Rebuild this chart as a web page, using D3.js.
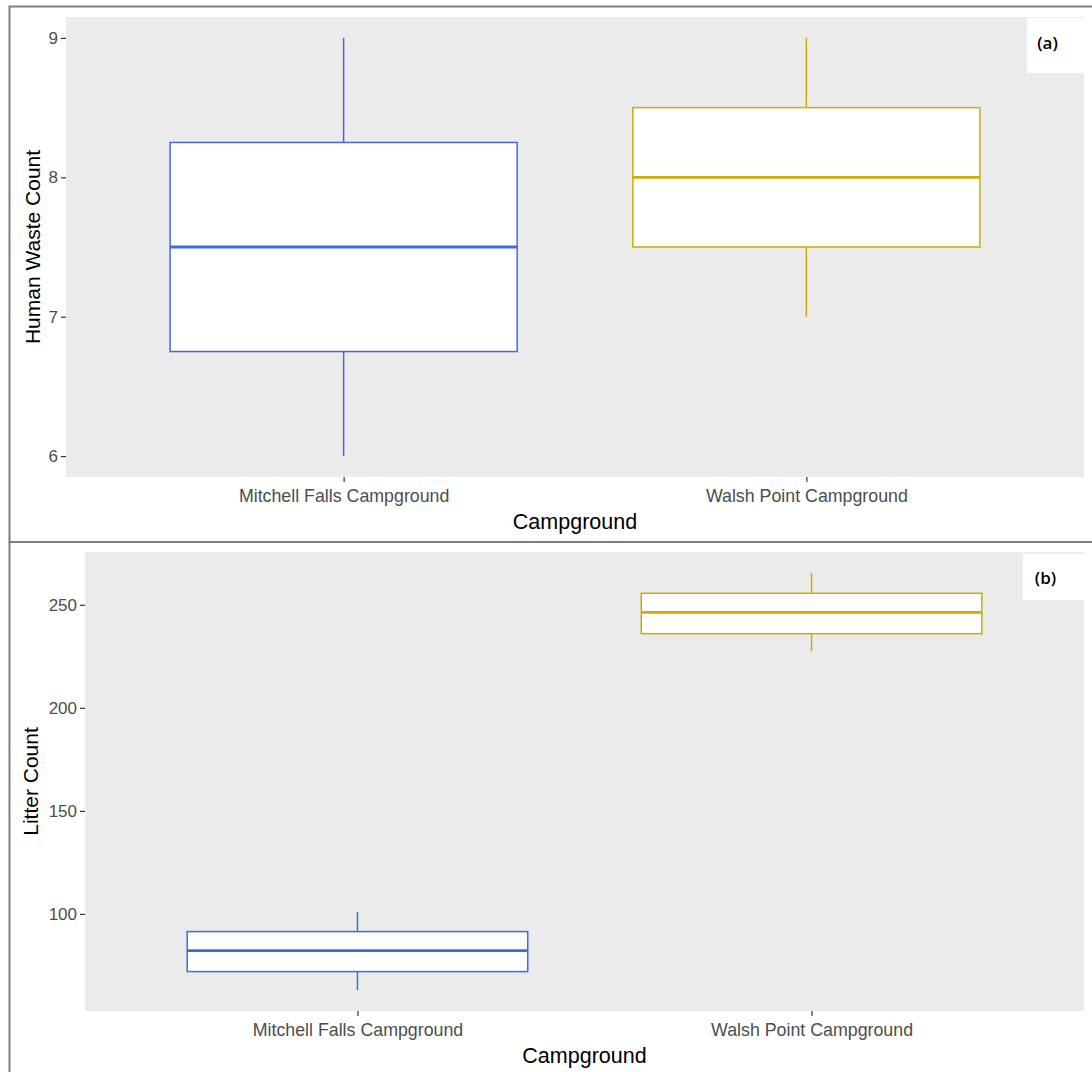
<!DOCTYPE html>
<html>
<head>
<meta charset="utf-8">
<script src="https://cdn.jsdelivr.net/npm/d3@7"></script>
<style>
  html, body { margin: 0; padding: 0; background: #ffffff; }
  svg { display: block; }
</style>
</head>
<body>
<svg id="chart" width="1092" height="1072"></svg>
<script>
// Campground survey: box plots of human waste and litter counts
const categories = ["Mitchell Falls Campground", "Walsh Point Campground"];
const boxColors = ["#4169E1", "#CDAD00"];

// five-number summaries per campground: [min, q1, median, q3, max]
const humanWasteStats = [
  [6, 6.75, 7.5, 8.25, 9],
  [7, 7.5, 8, 8.5, 9]
];
const litterStats = [
  [63, 72, 82.2, 91.4, 101],
  [227.5, 236, 246.3, 255.6, 265.5]
];

const humanWasteTicks = [6, 7, 8, 9];
const litterTicks = [100, 150, 200, 250];

const panels = [
  { stats: humanWasteStats, ticks: humanWasteTicks, yTitle: "Human Waste Count", tag: "(a)",
    frame: { x: 9.5, y: 6.5, h: 535.5 },
    plot: { left: 66, right: 1084, top: 17, bottom: 477 },
    titleX: 33,
    tagBox: { x: 1027, y: 18, w: 57, h: 55 } },
  { stats: litterStats, ticks: litterTicks, yTitle: "Litter Count", tag: "(b)",
    frame: { x: 9.5, y: 542, h: 600 },
    plot: { left: 85, right: 1084, top: 552, bottom: 1011 },
    titleX: 31,
    tagBox: { x: 1023, y: 554, w: 61, h: 46 } }
];

const svg = d3.select("#chart");
const sans = "'Liberation Sans', Arial, sans-serif";

panels.forEach(p => {
  const g = svg.append("g");

  // outer frame of each figure part
  g.append("rect")
    .attr("x", p.frame.x).attr("y", p.frame.y)
    .attr("width", 1200).attr("height", p.frame.h)
    .attr("fill", "none").attr("stroke", "#7f7f7f").attr("stroke-width", 2);

  // panel background
  g.append("rect")
    .attr("x", p.plot.left).attr("y", p.plot.top)
    .attr("width", p.plot.right - p.plot.left)
    .attr("height", p.plot.bottom - p.plot.top)
    .attr("fill", "#EBEBEB");

  // scales: discrete x with 0.6 expansion, continuous y with 5% expansion
  const x = d3.scalePoint().domain(categories)
    .range([p.plot.left, p.plot.right]).padding(0.6);
  const lo = d3.min(p.stats, s => s[0]);
  const hi = d3.max(p.stats, s => s[4]);
  const pad = (hi - lo) * 0.05;
  const y = d3.scaleLinear().domain([lo - pad, hi + pad])
    .range([p.plot.bottom, p.plot.top]);
  const boxW = x.step() * 0.75;

  // y axis
  const yAxis = g.append("g")
    .attr("transform", `translate(${p.plot.left},0)`)
    .call(d3.axisLeft(y).tickValues(p.ticks).tickSize(5).tickPadding(3).tickFormat(d3.format("d")));
  yAxis.select(".domain").remove();
  yAxis.selectAll(".tick line").attr("stroke", "#333333").attr("stroke-width", 1.2);
  yAxis.selectAll(".tick text")
    .attr("fill", "#4d4d4d").attr("font-family", sans)
    .attr("font-size", 17);

  // x axis
  const xAxis = g.append("g")
    .attr("transform", `translate(0,${p.plot.bottom})`)
    .call(d3.axisBottom(x).tickSize(5).tickPadding(7));
  xAxis.select(".domain").remove();
  xAxis.selectAll(".tick line").attr("stroke", "#333333").attr("stroke-width", 1.2);
  xAxis.selectAll(".tick text")
    .attr("fill", "#4d4d4d").attr("font-family", sans)
    .attr("font-size", 17.8);

  // axis titles
  g.append("text")
    .attr("x", (p.plot.left + p.plot.right) / 2)
    .attr("y", p.plot.bottom + 52)
    .attr("text-anchor", "middle")
    .attr("font-family", sans)
    .attr("font-size", 21.5).attr("fill", "#000000")
    .text("Campground");
  g.append("text")
    .attr("transform", `translate(${p.titleX + 7},${(p.plot.top + p.plot.bottom) / 2}) rotate(-90)`)
    .attr("text-anchor", "middle")
    .attr("font-family", sans)
    .attr("font-size", 21).attr("fill", "#000000")
    .text(p.yTitle);

  // boxes
  const boxes = g.selectAll("g.box").data(p.stats).join("g").attr("class", "box");
  boxes.append("line")
    .attr("x1", (d, i) => x(categories[i])).attr("x2", (d, i) => x(categories[i]))
    .attr("y1", d => y(d[4])).attr("y2", d => y(d[3]))
    .attr("stroke", (d, i) => boxColors[i]).attr("stroke-width", 1.5);
  boxes.append("line")
    .attr("x1", (d, i) => x(categories[i])).attr("x2", (d, i) => x(categories[i]))
    .attr("y1", d => y(d[1])).attr("y2", d => y(d[0]))
    .attr("stroke", (d, i) => boxColors[i]).attr("stroke-width", 1.5);
  boxes.append("rect")
    .attr("x", (d, i) => x(categories[i]) - boxW / 2)
    .attr("width", boxW)
    .attr("y", d => y(d[3]))
    .attr("height", d => y(d[1]) - y(d[3]))
    .attr("fill", "#ffffff")
    .attr("stroke", (d, i) => boxColors[i]).attr("stroke-width", 1.5);
  boxes.append("line")
    .attr("x1", (d, i) => x(categories[i]) - boxW / 2)
    .attr("x2", (d, i) => x(categories[i]) + boxW / 2)
    .attr("y1", d => y(d[2])).attr("y2", d => y(d[2]))
    .attr("stroke", (d, i) => boxColors[i]).attr("stroke-width", 2.8);

  // panel tag
  g.append("rect")
    .attr("x", p.tagBox.x).attr("y", p.tagBox.y)
    .attr("width", p.tagBox.w).attr("height", p.tagBox.h)
    .attr("fill", "#ffffff");
  g.append("text")
    .attr("x", p.tagBox.x + p.tagBox.w / 2 - 8)
    .attr("y", p.tagBox.y + (p.tag === "(a)" ? 31 : 30))
    .attr("text-anchor", "middle")
    .attr("font-family", "'Open Sans', sans-serif").attr("font-weight", 600)
    .attr("font-size", 17).attr("fill", "#000000")
    .text(p.tag);
});
</script>
</body>
</html>
